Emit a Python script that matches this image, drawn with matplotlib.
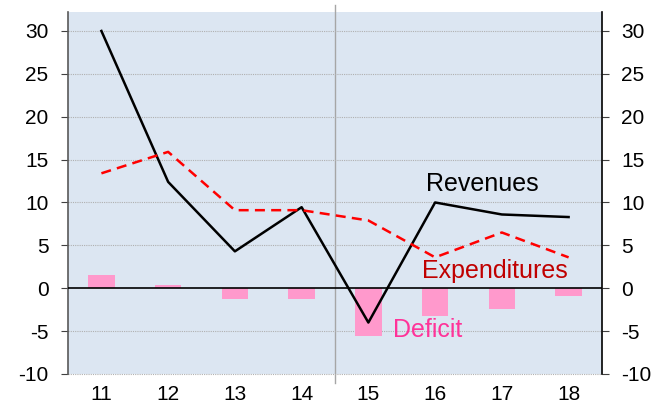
import matplotlib
matplotlib.use("Agg")
from matplotlib import pyplot as plt
import numpy as np

plt.rcParams['font.family'] = ['Liberation Sans', 'DejaVu Sans']
plt.rcParams['axes.unicode_minus'] = False

# fiscal years and annual changes
years = [11, 12, 13, 14, 15, 16, 17, 18]
revenues = [30.0, 12.4, 4.3, 9.45, -4.0, 10.0, 8.6, 8.3]
expenditures = [13.4, 15.9, 9.1, 9.1, 7.9, 3.6, 6.5, 3.6]
deficit = [1.5, 0.35, -1.3, -1.2, -5.6, -3.2, -2.4, -0.9]
year_labels = [str(y) for y in years]

fig = plt.figure(figsize=(6.67, 4.03), dpi=100)
ax = fig.add_axes([0.102, 0.072, 0.8005, 0.898])
ax.set_facecolor('#dce6f2')

x = np.arange(len(years))
ax.bar(x, deficit, width=0.4, color='#ff99cc', zorder=2)
ax.axhline(0, color='black', lw=1.2, zorder=3)
ax.plot(x, revenues, color='black', lw=1.8, zorder=4)
ax.plot(x, expenditures, color='#ff0000', lw=1.8, ls=(0, (4, 2.5)), zorder=4)

# divider between the two periods
ax.plot([3.5, 3.5], [-11, 33], color='#a6a6a6', lw=1, clip_on=False, zorder=1)

ax.set_xlim(-0.5, len(years) - 0.5)
ax.set_ylim(-10, 32.2)
ax.set_yticks(range(-10, 31, 5))
ax.set_xticks(x)
ax.set_xticklabels(year_labels)

for v in range(-10, 31, 5):
    if v != 0:
        ax.axhline(v, color='#b0b0b0', lw=0.8, ls=(0, (1, 1)), zorder=1, clip_on=False)

ax.text(5.7, 10.7, 'Revenues', fontsize=18, color='black', ha='center', va='bottom')
ax.text(5.9, 0.6, 'Expenditures', fontsize=18, color='#c00000', ha='center', va='bottom')
ax.text(4.89, -4.9, 'Deficit', fontsize=18, color='#ff3399', ha='center', va='center')

ax.tick_params(axis='x', length=0, labelsize=15, pad=8)
ax.tick_params(axis='y', direction='out', length=5, labelsize=15, pad=9, left=True, right=True,
               labelleft=True, labelright=True, color='#404040')
for side in ['top', 'bottom']:
    ax.spines[side].set_visible(False)
ax.spines['left'].set_color('#595959')
ax.spines['left'].set_linewidth(1.2)
ax.spines['right'].set_color('black')
ax.spines['right'].set_linewidth(1.2)

fig.savefig('out.png', dpi=100)
